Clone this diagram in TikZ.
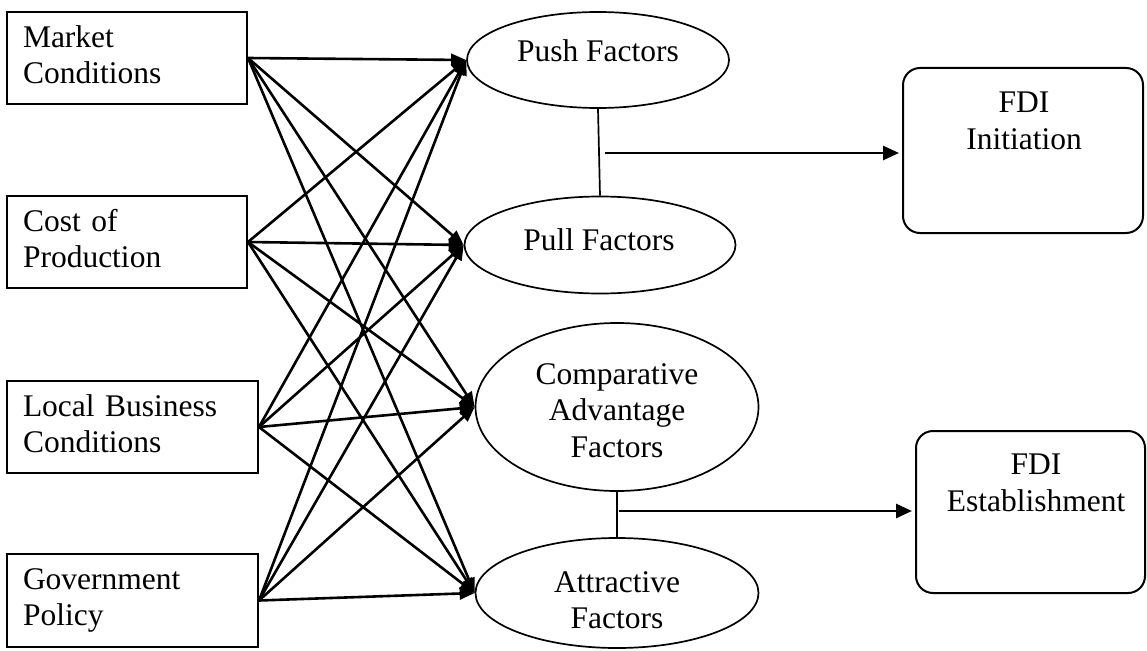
\documentclass[tikz,border=0pt]{standalone}
\usepackage{fontspec}
\setmainfont{Liberation Serif}
\usetikzlibrary{arrows.meta,shapes.geometric}

\tikzset{
  txtfont/.style={font=\fontsize{31.5}{36.5}\selectfont},
  srcbox/.style={draw, rectangle, line width=2pt, txtfont, align=left,
    inner xsep=16pt, inner ysep=0pt, text depth=43.5pt},
  factor/.style={draw, ellipse, line width=1.7pt, inner sep=0pt},
  ftext/.style={txtfont, align=center, inner sep=0pt, anchor=north},
  result/.style={draw, rectangle, rounded corners=17pt, line width=2pt},
  feed/.style={line width=2.6pt, -{Triangle[length=15pt,width=12pt]}},
  link/.style={line width=1.7pt},
  outarrow/.style={line width=2.8pt, -{Triangle[length=16pt,width=14pt]}, shorten >=3pt}
}

\begin{document}
\begin{tikzpicture}[x=1pt,y=-1pt]
\useasboundingbox (0,0) rectangle (1147,650);

% determinants on the left
\node[srcbox, text width=208pt, minimum height=92pt] (market) at (127,58) {Market\\Conditions};
\node[srcbox, text width=208pt, minimum height=92pt] (cost) at (127,242) {Cost of\\Production};
\node[srcbox, text width=219pt, minimum height=92pt] (local) at (132.5,427) {Local Business\\Conditions};
\node[srcbox, text width=219pt, minimum height=93pt] (gov) at (132.5,600.5) {Government\\Policy};

% factor groups
\node[factor, minimum width=262pt, minimum height=96pt] (push) at (598,60) {};
\node[factor, minimum width=271pt, minimum height=97pt] (pull) at (600,245) {};
\node[factor, minimum width=283pt, minimum height=168pt] (comp) at (617,407) {};
\node[factor, minimum width=283pt, minimum height=110pt] (attr) at (617,593) {};

\node[ftext] (pushtxt) at (598,39) {Push Factors};
\node[ftext] (pulltxt) at (599,228) {Pull Factors};
\node[ftext] (comptxt) at (617,363) {Comparative\\Advantage\\Factors};
\node[ftext] (attrtxt) at (617,571) {Attractive\\Factors};

% outcomes
\node[result, minimum width=240pt, minimum height=165pt] (fdiA) at (1023,150.5) {};
\node[result, minimum width=229pt, minimum height=162pt] (fdiB) at (1030.5,512) {};
\node[ftext] (fdiAtxt) at (1024,92) {FDI\\Initiation};
\node[ftext] (fdiBtxt) at (1036,454) {FDI\\Establishment};

% every determinant feeds every factor group
\foreach \s in {market,cost,local,gov}
  \foreach \t in {push,pull,comp,attr}
    \draw[feed] (\s.east) -- (\t.west);

% pairs of factor groups and their outcomes
\draw[link] (push.south) -- (pull.north);
\draw[link] (comp.south) -- (attr.north);

\coordinate (startA) at (605,153);
\coordinate (startB) at (619,511);
\draw[outarrow] (startA) -- (startA -| fdiA.west);
\draw[outarrow] (startB) -- (startB -| fdiB.west);
\end{tikzpicture}
\end{document}
